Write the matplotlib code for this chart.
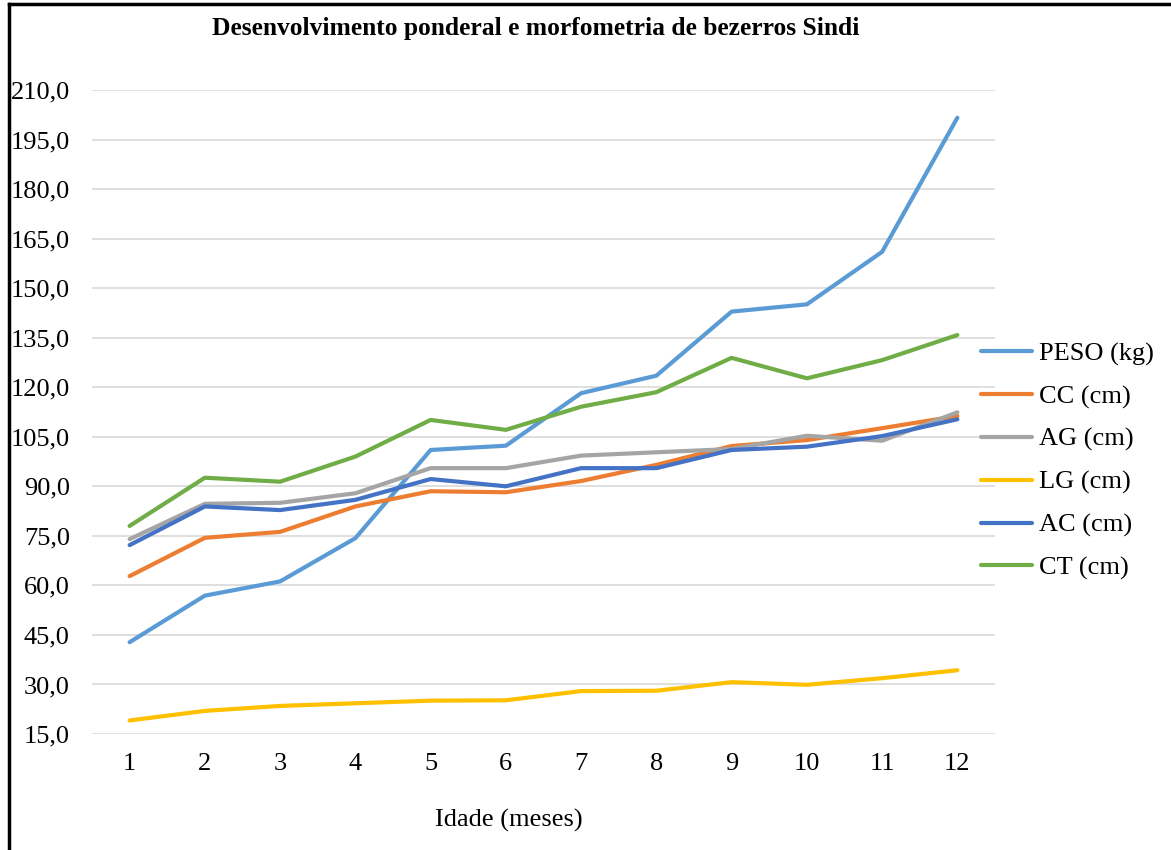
import matplotlib
matplotlib.use("Agg")
import matplotlib.pyplot as plt
from matplotlib.lines import Line2D
from matplotlib.ticker import FuncFormatter

# idade em meses
meses = [1, 2, 3, 4, 5, 6, 7, 8, 9, 10, 11, 12]

peso = [42.8, 56.9, 61.2, 74.3, 101.0, 102.3, 118.2, 123.5, 142.9, 145.1, 161.0, 201.6]
cc = [62.8, 74.4, 76.2, 83.9, 88.5, 88.2, 91.6, 96.5, 102.2, 104.0, 107.6, 111.3]
ag = [74.0, 84.7, 85.0, 87.9, 95.5, 95.5, 99.3, 100.3, 101.3, 105.3, 103.8, 112.4]
lg = [19.1, 22.0, 23.5, 24.3, 25.1, 25.2, 28.0, 28.1, 30.7, 29.9, 31.9, 34.3]
ac = [72.2, 83.9, 82.8, 85.9, 92.2, 90.0, 95.5, 95.5, 101.0, 102.0, 105.2, 110.3]
ct = [78.0, 92.6, 91.4, 99.0, 110.1, 107.1, 114.1, 118.5, 128.9, 122.7, 128.2, 135.8]

series = [
    ("PESO (kg)", peso, "#5B9BD5"),
    ("CC (cm)", cc, "#ED7D31"),
    ("AG (cm)", ag, "#A5A5A5"),
    ("LG (cm)", lg, "#FFC000"),
    ("AC (cm)", ac, "#4472C4"),
    ("CT (cm)", ct, "#70AD47"),
]

y_ticks = list(range(15, 211, 15))

plt.rcParams["font.family"] = ["Liberation Serif", "DejaVu Serif"]

fig = plt.figure(figsize=(11.71, 8.5), dpi=100)
ax = fig.add_axes([92 / 1171, 1 - 734 / 850, (995 - 92) / 1171, (734 - 90) / 850])

for name, vals, color in series:
    ax.plot(meses, vals, color=color, lw=3.0, label=name, solid_capstyle="round")

ax.set_xlim(0.5, 12.5)
ax.set_ylim(15, 210)
ax.set_yticks(y_ticks)
ax.set_xticks(meses)
ax.yaxis.set_major_formatter(FuncFormatter(lambda v, p: f"{v:.1f}".replace(".", ",")))
ax.grid(axis="y", color="#D9D9D9", lw=1.2)
ax.set_axisbelow(True)
for s in ax.spines.values():
    s.set_visible(False)
ax.tick_params(length=0, labelsize=19, colors="#000000")
ax.tick_params(axis="y", pad=16)
ax.tick_params(axis="x", pad=14)

fig.text(536 / 1171, 1 - 28 / 850, "Desenvolvimento ponderal e morfometria de bezerros Sindi",
         ha="center", va="center", fontsize=18.4, fontweight="bold")
fig.text(509 / 1171, 1 - 820 / 850, "Idade (meses)", ha="center", va="center", fontsize=19)

fig.legend(loc="upper left", bbox_to_anchor=(957 / 1171, 1 - 318 / 850), frameon=False,
           fontsize=19, handlelength=1.95, handletextpad=0.25, labelspacing=0.72)

# moldura
fig.add_artist(Line2D([9 / 1171, 9 / 1171], [0, 1 - 4 / 850], transform=fig.transFigure, color="black", lw=2.5))
fig.add_artist(Line2D([9 / 1171, 1], [1 - 4 / 850, 1 - 4 / 850], transform=fig.transFigure, color="black", lw=2.5))

fig.savefig("out.png", dpi=100)
